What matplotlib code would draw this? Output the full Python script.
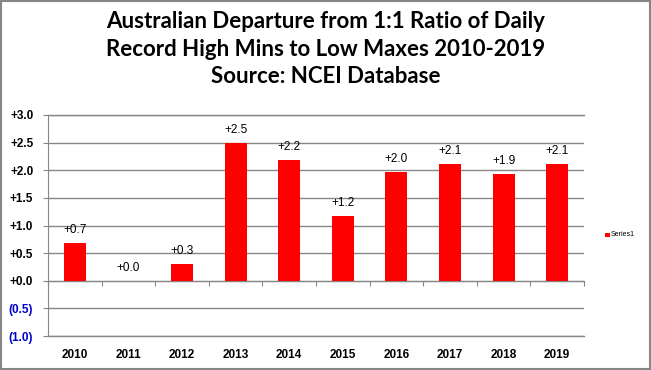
import matplotlib
matplotlib.use("Agg")
import matplotlib.pyplot as plt
from matplotlib.patches import Rectangle
import matplotlib.transforms as mtransforms

years = ["2010", "2011", "2012", "2013", "2014", "2015", "2016", "2017", "2018", "2019"]
values = [0.68, 0.0, 0.30, 2.50, 2.18, 1.17, 1.97, 2.11, 1.94, 2.11]
ytick_vals = [-1.0, -0.5, 0.0, 0.5, 1.0, 1.5, 2.0, 2.5, 3.0]
title = "Australian Departure from 1:1 Ratio of Daily\nRecord High Mins to Low Maxes 2010-2019\nSource: NCEI Database"
series_name = "Series1"

def fmt(v):
    return "+%.1f" % v if v >= 0 else "(%.1f)" % abs(v)

FONT = "Liberation Sans"
W, H = 651, 370
fig = plt.figure(figsize=(W / 100, H / 100), dpi=100)
fig.patch.set_facecolor("white")
fig.patches.append(Rectangle((0.001, 0.002), 0.997, 0.995, transform=fig.transFigure,
                             fill=False, edgecolor="#868686", linewidth=1.5))

ax = fig.add_axes([48 / W, 34 / H, (584 - 48) / W, (336 - 115) / H])
x = list(range(len(years)))
ax.bar(x, values, width=0.41, color="#ff0000", zorder=3)
ax.set_xlim(-0.5, len(years) - 0.5)
ax.set_ylim(-1.0, 3.0)
ax.set_yticks(ytick_vals)
ax.set_yticklabels([fmt(v) for v in ytick_vals], fontweight="bold", fontsize=8.5,
                   family=FONT)
for lbl, v in zip(ax.get_yticklabels(), ytick_vals):
    lbl.set_color("#0000cc" if v < 0 else "black")
ax.tick_params(axis="y", length=3.6, color="#868686", pad=7)
ax.yaxis.grid(True, color="#868686", linewidth=1.0, zorder=0)
ax.axhline(-1.0, color="#868686", linewidth=1.0, clip_on=False, zorder=0)
ax.axhline(3.0, color="#868686", linewidth=1.0, clip_on=False, zorder=0)
ax.set_axisbelow(True)

for s in ["top", "right"]:
    ax.spines[s].set_visible(False)
ax.spines["left"].set_color("#868686")
ax.spines["bottom"].set_position(("data", 0))
ax.spines["bottom"].set_color("#868686")
ax.set_xticks([i - 0.5 for i in range(len(years) + 1)])
ax.set_xticklabels([])
ax.tick_params(axis="x", length=3.6, color="#868686", direction="out")

trans = mtransforms.blended_transform_factory(ax.transData, ax.transAxes)
for i, y in enumerate(years):
    ax.text(i, -0.088, y, transform=trans, ha="center", va="center",
            fontsize=8.5, fontweight="bold", family=FONT)

for i, v in enumerate(values):
    ax.annotate(fmt(v), (i, max(v, 0)), xytext=(0, 5), textcoords="offset points",
                ha="center", va="bottom", fontsize=8.5, family=FONT)

fig.text(326 / W, 1 - 49 / H, title, ha="center", va="center", fontsize=16,
         fontweight="bold", family="Lato", linespacing=1.38)

# legend
fig.patches.append(Rectangle((605 / W, 1 - 237 / H), 4.5 / W, 4.5 / H,
                             transform=fig.transFigure, facecolor="#ff0000", edgecolor="none"))
fig.text(611 / W, 1 - 234.5 / H, series_name, fontsize=5, va="center", ha="left",
         family=FONT)

fig.savefig("out.png", dpi=100)
